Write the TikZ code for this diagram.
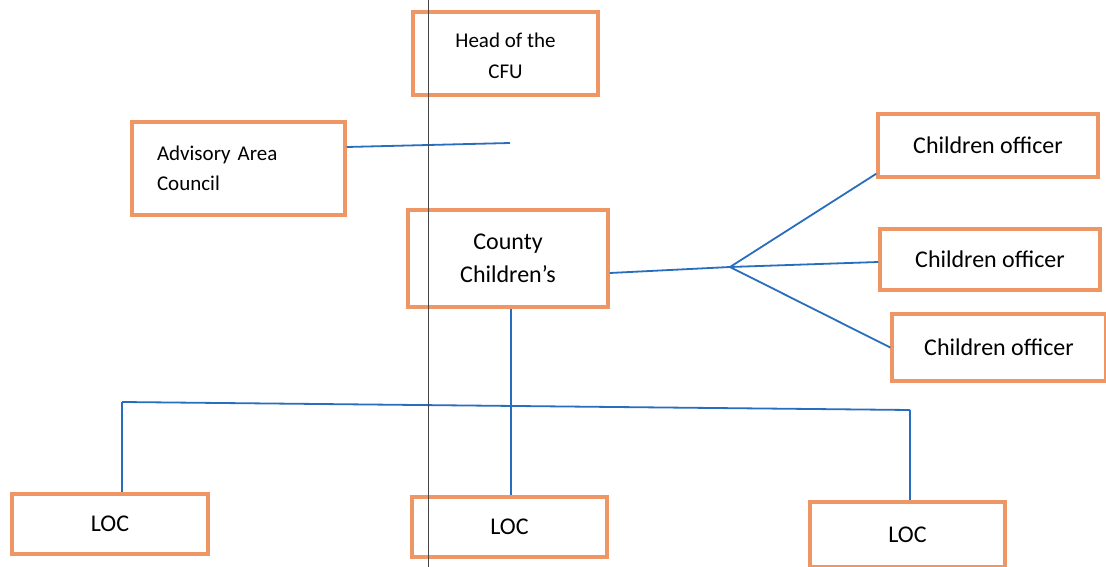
\documentclass[tikz,border=0pt]{standalone}
\usepackage{fontspec}
\setmainfont{Carlito}
\usetikzlibrary{calc}
\definecolor{boxorange}{RGB}{238,150,100}
\definecolor{linkblue}{RGB}{40,110,190}
\definecolor{rulegray}{RGB}{70,70,70}
\begin{document}
\begin{tikzpicture}[x=1pt,y=-1pt,
  unit/.style={draw=boxorange,line width=3.5pt,fill=white,rectangle,
    inner sep=0pt,align=center,font=\fontsize{24}{33}\selectfont,text=black},
  small/.style={font=\fontsize{21}{30.5}\selectfont},
  link/.style={draw=linkblue,line width=1.8pt}]
\useasboundingbox (0,0) rectangle (1106,567);
\fill[white] (0,0) rectangle (1106,567);

% organisational units
\node[unit,small,minimum width=185,minimum height=83] (head) at (505.5,53.5) {};
\node[small,align=center,inner sep=0pt] (headtext) at (505.5,56) {Head of the\\CFU};
\node[unit,small,minimum width=213,minimum height=93,text width=163,align=left] (aac) at (238.5,168.5) {Advisory Area\\Council};
\node[unit,minimum width=200,minimum height=97] (cc) at (508,258.5) {County\\Children’s};
\node[unit,minimum width=220,minimum height=63] (co1) at (988,145.5) {Children officer};
\node[unit,minimum width=220,minimum height=61] (co2) at (990,259.5) {Children officer};
\node[unit,minimum width=214,minimum height=67] (co3) at (999,347.5) {Children officer};
\node[unit,minimum width=196,minimum height=60] (loc1) at (110,524) {LOC};
\node[unit,minimum width=195,minimum height=60] (loc2) at (509.5,527) {LOC};
\node[unit,minimum width=195,minimum height=65] (loc3) at (907.5,534.5) {LOC};

% connector junctions
\coordinate (aacend) at (510,143);
\coordinate (fork) at (730,267);
\coordinate (bus1) at (122,402);
\coordinate (bus3) at (910,410);
\coordinate (drop) at (511,0);

% links
\draw[link] ($(aac.east)+(0,-21.5)$) -- (aacend);
\draw[link] ($(cc.east)+(0,14.5)$) -- (fork);
\draw[link] (fork) -- ($(co1.south west)+(0,-5)$);
\draw[link] (fork) -- ($(co2.west)+(0,2.5)$);
\draw[link] (fork) -- (co3.west);
\draw[link] (drop |- cc.south) -- (drop |- loc2.north);
\draw[link] (bus1) -- (bus3);
\draw[link] (bus1) -- (bus1 |- loc1.north);
\draw[link] (bus3) -- (bus3 |- loc3.north);

% margin rule of the page
\draw[rulegray,line width=0.8pt] (428,0) -- (428,567);
\end{tikzpicture}
\end{document}
